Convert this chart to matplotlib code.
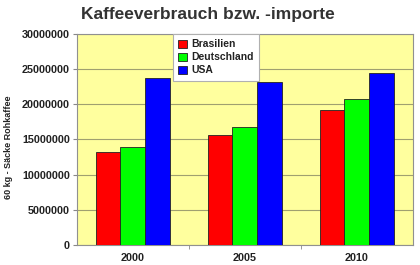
import matplotlib.pyplot as plt
import numpy as np

years = ['2000', '2005', '2010']
brasilien = [13250000, 15600000, 19200000]
deutschland = [13950000, 16800000, 20700000]
usa = [23800000, 23150000, 24500000]

series = [('Brasilien', brasilien, '#ff0000'),
          ('Deutschland', deutschland, '#00ff00'),
          ('USA', usa, '#0000ff')]

plt.rcParams['font.family'] = ['Liberation Sans', 'DejaVu Sans']
plt.rcParams['font.weight'] = 'bold'
plt.rcParams['axes.labelweight'] = 'bold'

fig = plt.figure(figsize=(4.2, 2.65), dpi=100)
ax = fig.add_axes([0.1833, 0.0755, 0.8, 0.7962])
ax.set_facecolor('#ffff9e')

x = np.arange(len(years))
w = 0.223
for i, (name, vals, col) in enumerate(series):
    ax.bar(x + (i - 1) * w, vals, w, color=col, edgecolor='#222222',
           linewidth=0.6, label=name, zorder=3)

ax.set_xlim(-0.5, 2.5)
ax.set_ylim(0, 30000000)
ax.set_yticks(np.arange(0, 30000001, 5000000))
ax.set_yticklabels([str(v) for v in range(0, 30000001, 5000000)])
ax.yaxis.grid(True, color='#a0a070', linewidth=0.8, zorder=0)
ax.set_xticks(x)
ax.set_xticklabels(years)
ax.set_xticks([0.5, 1.5], minor=True)
ax.tick_params(axis='x', which='major', length=0, pad=6, labelsize=7.8, labelcolor='#222222')
ax.tick_params(axis='x', which='minor', length=3, color='#888888')
ax.tick_params(axis='y', length=3, color='#888888', pad=2, labelsize=7.8, labelcolor='#222222')
for s in ax.spines.values():
    s.set_color('#909090')
    s.set_linewidth(0.8)

ax.set_ylabel('60 kg - Säcke Rohkaffee', fontsize=6.5, fontweight='bold', color='#222222')
ax.yaxis.set_label_coords(-0.19, 0.465)

fig.text(0.495, 0.945, 'Kaffeeverbrauch bzw. -importe', ha='center', va='center',
         fontsize=12.5, fontweight='bold', color='#333333')

leg = ax.legend(loc='upper left', bbox_to_anchor=(0.2857, 1.0), fontsize=7.5,
                frameon=True, fancybox=False, handlelength=0.8, handleheight=0.8,
                handletextpad=0.5, borderpad=0.5, labelspacing=0.3, borderaxespad=0)
leg.get_frame().set_edgecolor('#b0b0b0')
leg.get_frame().set_linewidth(0.8)
leg.get_frame().set_facecolor('white')
leg.get_frame().set_alpha(1)
for t in leg.get_texts():
    t.set_color('#222222')

plt.savefig('out.png', dpi=100)
